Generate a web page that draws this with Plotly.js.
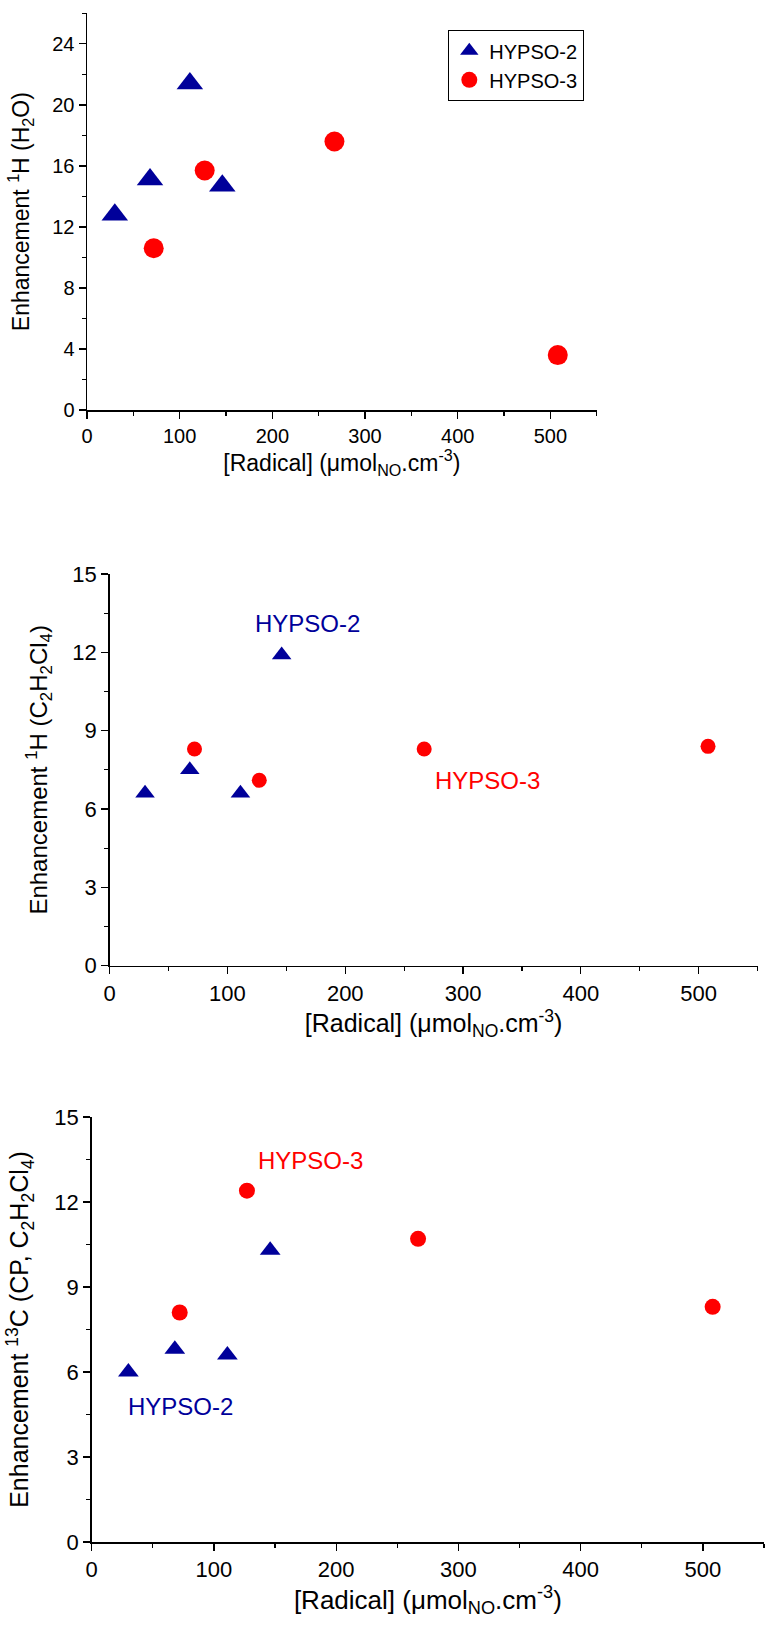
<!DOCTYPE html>
<html><head><meta charset="utf-8">
<script src="https://cdn.plot.ly/plotly-3.0.1.min.js"></script>
<style>html,body{margin:0;padding:0;background:#fff;overflow:hidden}#chart{width:765px;height:1629px}</style>
</head><body><div id="chart"></div>
<script>
// ---- data ----
const seriesNames = ['HYPSO-2', 'HYPSO-3'];
const radicalHypso2 = [30, 68, 111, 146];
const radicalHypso3 = [72, 127, 267, 508];
const enhH2O_hypso2 = [12.8, 15.1, 21.4, 14.7];
const enhH2O_hypso3 = [10.6, 15.7, 17.6, 3.6];
const enhTCE_hypso2 = [6.6, 7.5, 6.6, 11.9];
const enhTCE_hypso3 = [8.3, 7.1, 8.3, 8.4];
const enhC13_hypso2 = [6.0, 6.8, 6.6, 10.3];
const enhC13_hypso3 = [8.1, 12.4, 10.7, 8.3];
const xTitle = '[Radical] (\u03bcmol<sub>NO</sub>.cm<sup>-3</sup>)';
const yTitles = [
  'Enhancement <sup>1</sup>H (H<sub>2</sub>O)',
  'Enhancement <sup>1</sup>H (C<sub>2</sub>H<sub>2</sub>Cl<sub>4</sub>)',
  'Enhancement <sup>13</sup>C (CP, C<sub>2</sub>H<sub>2</sub>Cl<sub>4</sub>)'
];
const labelPanel2 = [{text: 'HYPSO-2', x: 168, y: 13.1}, {text: 'HYPSO-3', x: 321, y: 7.1}];
const labelPanel3 = [{text: 'HYPSO-3', x: 179, y: 13.45}, {text: 'HYPSO-2', x: 73, y: 4.8}];

// ---- styling ----
const W = 765, H = 1629;
const FONT = 'Liberation Sans, Arial, sans-serif';
const BLUE = '#00009a', RED = '#ff0000';
const dx = (a, b) => [a / W, b / W];
const dy = (top, bottom) => [1 - bottom / H, 1 - top / H];

function tri(x, y, xa, ya, size, legend) {
  return {type: 'scatter', mode: 'markers', x: x, y: y, xaxis: xa, yaxis: ya, name: seriesNames[0],
    showlegend: legend, marker: {symbol: 'triangle-up', color: BLUE, size: size, line: {width: 0}}};
}
function circ(x, y, xa, ya, size, legend) {
  return {type: 'scatter', mode: 'markers', x: x, y: y, xaxis: xa, yaxis: ya, name: seriesNames[1],
    showlegend: legend, marker: {symbol: 'circle', color: RED, size: size, line: {width: 0}}};
}

const data = [
  tri(radicalHypso2, enhH2O_hypso2, 'x', 'y', 23, true),
  circ(radicalHypso3, enhH2O_hypso3, 'x', 'y', 20, true),
  tri(radicalHypso2, enhTCE_hypso2, 'x2', 'y2', 17, false),
  circ(radicalHypso3, enhTCE_hypso3, 'x2', 'y2', 15, false),
  tri(radicalHypso2, enhC13_hypso2, 'x3', 'y3', 18, false),
  circ(radicalHypso3, enhC13_hypso3, 'x3', 'y3', 16, false)
];

function axis(o) {
  return Object.assign({
    showline: true, linecolor: '#000', linewidth: 1.5, mirror: false,
    ticks: 'outside', ticklen: 7, tickwidth: 1.3, tickcolor: '#000',
    showgrid: false, zeroline: false, fixedrange: true
  }, o);
}
function xax(domain, anchor, tickSize, titleSize, standoff) {
  return axis({domain: domain, anchor: anchor, range: [0, 550], dtick: 100, tick0: 0,
    minor: {ticks: 'outside', ticklen: 4, tickwidth: 1.3, tickcolor: '#000', dtick: 50, showgrid: false},
    tickfont: {family: FONT, size: tickSize, color: '#000'},
    title: {text: xTitle, font: {family: FONT, size: titleSize, color: '#000'}, standoff: standoff}});
}
function yax(domain, anchor, range, dt, tickSize, title, titleSize, standoff) {
  return axis({domain: domain, anchor: anchor, range: range, dtick: dt, tick0: 0,
    minor: {ticks: 'outside', ticklen: 4, tickwidth: 1.3, tickcolor: '#000', dtick: dt / 2, showgrid: false},
    tickfont: {family: FONT, size: tickSize, color: '#000'},
    title: {text: title, font: {family: FONT, size: titleSize, color: '#000'}, standoff: standoff}});
}

const annotations = [];
labelPanel2.forEach((l, i) => annotations.push({xref: 'x2', yref: 'y2', x: l.x, y: l.y, text: l.text,
  showarrow: false, font: {family: FONT, size: 24, color: i === 0 ? BLUE : RED}}));
labelPanel3.forEach((l, i) => annotations.push({xref: 'x3', yref: 'y3', x: l.x, y: l.y, text: l.text,
  showarrow: false, font: {family: FONT, size: 24, color: i === 0 ? RED : BLUE}}));

const layout = {
  width: W, height: H, margin: {l: 0, r: 0, t: 0, b: 0},
  paper_bgcolor: '#fff', plot_bgcolor: '#fff',
  font: {family: FONT, color: '#000'},
  showlegend: true,
  legend: {x: 448 / W, y: 1 - 30 / H, xanchor: 'left', yanchor: 'top',
    bordercolor: '#000', borderwidth: 1.3, bgcolor: '#fff',
    font: {family: FONT, size: 20, color: '#000'}, tracegroupgap: 0},
  xaxis: xax(dx(87, 596.7), 'y', 20, 23, 6),
  yaxis: yax(dy(13.3, 410), 'x', [0, 26], 4, 20, yTitles[0], 23, 16),
  xaxis2: xax(dx(109.7, 757.5), 'y2', 22, 25, 4),
  yaxis2: yax(dy(574, 965.7), 'x2', [0, 15], 3, 22, yTitles[1], 24, 18),
  xaxis3: xax(dx(91.7, 764), 'y3', 22, 26, 4),
  yaxis3: yax(dy(1117, 1542), 'x3', [0, 15], 3, 22, yTitles[2], 25, 18),
  annotations: annotations
};

Plotly.newPlot('chart', data, layout, {displayModeBar: false, staticPlot: true});
</script>
</body></html>
